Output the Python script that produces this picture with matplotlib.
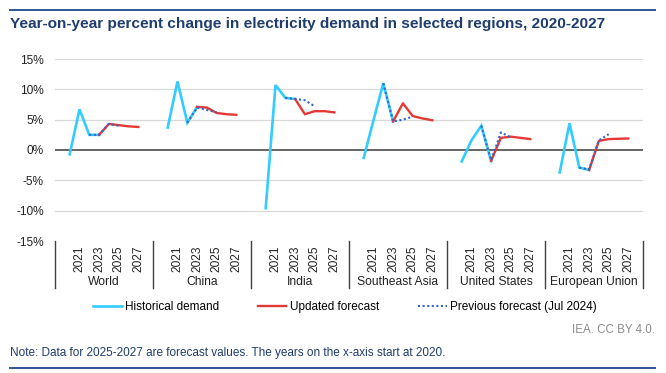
import matplotlib
matplotlib.use("Agg")
import matplotlib.pyplot as plt
import matplotlib.transforms as mtransforms
from matplotlib.lines import Line2D

plt.rcParams['font.family'] = ['Liberation Sans', 'DejaVu Sans']

# data (percent change, y-o-y)
regions = ["World", "China", "India", "Southeast Asia", "United States", "European Union"]
years = [2020, 2021, 2022, 2023, 2024, 2025, 2026, 2027]
hist_years = [2020, 2021, 2022, 2023]
upd_years = [2023, 2024, 2025, 2026, 2027]
prev_years = [2022, 2023, 2024, 2025]

historical = [
    [-0.7, 6.7, 2.5, 2.5],
    [3.7, 11.3, 4.5, 7.1],
    [-9.6, 10.7, 8.6, 8.4],
    [-1.3, 4.9, 11.0, 4.7],
    [-1.9, 1.6, 4.0, -1.8],
    [-3.7, 4.4, -2.9, -3.3],
]
updated = [
    [2.5, 4.3, 4.1, 3.9, 3.8],
    [7.1, 7.0, 6.1, 5.9, 5.8],
    [8.4, 5.9, 6.4, 6.4, 6.2],
    [4.7, 7.7, 5.6, 5.2, 4.9],
    [-1.8, 2.0, 2.2, 2.0, 1.8],
    [-3.3, 1.5, 1.8, 1.85, 1.9],
]
previous = [
    [2.5, 2.5, 4.3, 4.0],
    [4.5, 7.0, 6.6, 6.2],
    [8.6, 8.4, 8.2, 7.2],
    [11.0, 4.7, 5.0, 5.5],
    [4.0, -1.7, 2.9, 2.1],
    [-2.9, -3.2, 1.6, 2.6],
]
yticks = [-15, -10, -5, 0, 5, 10, 15]
shown_years = [2021, 2023, 2025, 2027]

c_hist = '#33CCFF'
c_upd = '#E53935'
c_prev = '#3366CC'
c_title = '#1F3D6E'

W, H = 666, 373
fig = plt.figure(figsize=(W / 100, H / 100), dpi=100)
ax = fig.add_axes([55 / W, 1 - 241 / H, 588 / W, 182 / H])

slots = len(years) + 2  # one empty slot either side of each group


def xpos(g, yr):
    return g * slots + 1 + (yr - years[0]) + 0.5


for g in range(len(regions)):
    ax.plot([xpos(g, y) for y in hist_years], historical[g], color=c_hist, lw=1.9,
            solid_joinstyle='miter', zorder=3)
    ax.plot([xpos(g, y) for y in upd_years], updated[g], color=c_upd, lw=1.7, zorder=4)
    ax.plot([xpos(g, y) for y in prev_years], previous[g], color=c_prev, lw=1.5,
            linestyle=(0, (1, 1.2)), zorder=5)

ax.set_xlim(0, slots * len(regions))
ax.set_ylim(-15, 15)
ax.set_yticks(yticks)
ax.set_yticklabels([f'{v}%' for v in yticks], fontsize=8.6, color='#222222')
for v in yticks:
    if v == 0:
        ax.axhline(v, color='#595959', lw=1.3, zorder=2)
    elif v != -15:
        ax.axhline(v, color='#D9D9D9', lw=0.9, zorder=1)

xt, xl = [], []
for g in range(len(regions)):
    for y in shown_years:
        xt.append(xpos(g, y))
        xl.append(str(y))
ax.set_xticks(xt)
ax.set_xticklabels(xl, rotation=90, fontsize=8.6, color='#222222')
ax.tick_params(axis='x', length=0, pad=3)
ax.tick_params(axis='y', length=0, pad=8)
for s in ax.spines.values():
    s.set_visible(False)

trans = mtransforms.blended_transform_factory(ax.transData, ax.transAxes)
for g in range(len(regions) + 1):
    ax.add_line(Line2D([g * slots, g * slots], [0, -0.26], transform=trans,
                       color='#404040', lw=1.0, clip_on=False))
for g, name in enumerate(regions):
    ax.text(g * slots + slots / 2, -0.225, name, transform=trans, ha='center',
            va='center', fontsize=8.7, color='#222222')

handles = [Line2D([], [], color=c_hist, lw=1.9),
           Line2D([], [], color=c_upd, lw=1.7),
           Line2D([], [], color=c_prev, lw=1.5, linestyle=(0, (1, 1.2)))]
fig.legend(handles, ['Historical demand', 'Updated forecast', 'Previous forecast (Jul 2024)'],
           ncol=3, loc='center', bbox_to_anchor=(345 / W, 1 - 307 / H), frameon=False,
           fontsize=8.5, handlelength=2.4, handletextpad=0.3, columnspacing=3.3)

fig.text(10 / W, 1 - 24 / H, 'Year-on-year percent change in electricity demand in selected regions, 2020-2027',
         fontsize=11.1, fontweight='bold', color=c_title, va='center')
fig.text(655 / W, 1 - 330 / H, 'IEA. CC BY 4.0.', fontsize=8.4, color='#8C8C8C',
         ha='right', va='center')
fig.text(10 / W, 1 - 353 / H,
         'Note: Data for 2025-2027 are forecast values. The years on the x-axis start at 2020.',
         fontsize=8.5, color=c_title, va='center')
fig.add_artist(Line2D([10 / W, 655 / W], [1 - 10 / H, 1 - 10 / H], color='#2F5597', lw=1.4))
fig.add_artist(Line2D([10 / W, 655 / W], [1 - 368 / H, 1 - 368 / H], color='#2F5597', lw=1.4))

fig.savefig('out.png', dpi=100)
